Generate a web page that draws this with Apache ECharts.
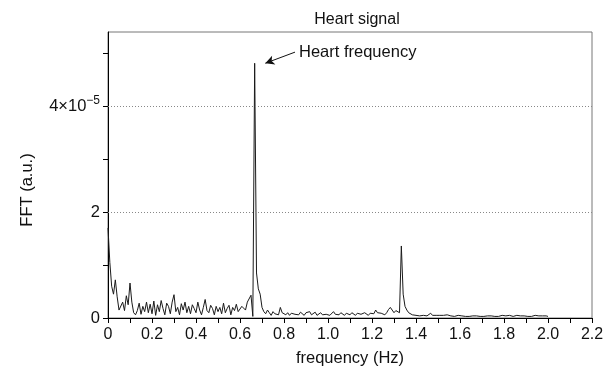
<!DOCTYPE html>
<html>
<head>
<meta charset="utf-8">
<script src="https://cdn.jsdelivr.net/npm/echarts@6/dist/echarts.min.js"></script>
<style>html,body{margin:0;padding:0;background:#fff}#c{width:614px;height:373px}</style>
</head>
<body>
<div id="c"></div>
<script>
// FFT magnitude, in units of 1e-5 (a.u.), sampled every 1/120 Hz from 0 to 2.0 Hz
const freqStep = 1 / 120;
const fftValues = [
  1.70, 1.05, 0.60, 0.45, 0.72, 0.40, 0.15, 0.16, 0.30, 0.14, 0.42, 0.25,
  0.66, 0.30, 0.10, 0.06, 0.14, 0.28, 0.07, 0.22, 0.12, 0.30, 0.10, 0.26,
  0.08, 0.32, 0.05, 0.25, 0.12, 0.33, 0.18, 0.06, 0.28, 0.22, 0.08, 0.30,
  0.44, 0.12, 0.20, 0.06, 0.27, 0.15, 0.30, 0.10, 0.22, 0.08, 0.25, 0.18,
  0.10, 0.30, 0.15, 0.06, 0.20, 0.35, 0.14, 0.10, 0.24, 0.18, 0.06, 0.22,
  0.12, 0.20, 0.08, 0.28, 0.10, 0.18, 0.24, 0.06, 0.20, 0.14, 0.26, 0.12,
  0.10, 0.22, 0.20, 0.15, 0.30, 0.28, 0.43, 0.03, 4.81, 0.85, 0.55, 0.45,
  0.20, 0.12, 0.08, 0.15, 0.10, 0.05, 0.12, 0.08, 0.10, 0.06, 0.20, 0.10,
  0.12, 0.06, 0.10, 0.05, 0.09, 0.12, 0.07, 0.10, 0.06, 0.11, 0.08, 0.05,
  0.10, 0.07, 0.12, 0.06, 0.09, 0.11, 0.05, 0.08, 0.10, 0.06, 0.09, 0.07,
  0.10, 0.05, 0.08, 0.12, 0.07, 0.09, 0.06, 0.10, 0.08, 0.05, 0.09, 0.07,
  0.06, 0.10, 0.08, 0.05, 0.09, 0.12, 0.07, 0.06, 0.10, 0.08, 0.05, 0.09,
  0.12, 0.08, 0.15, 0.10, 0.07, 0.09, 0.12, 0.06, 0.10, 0.16, 0.20, 0.15,
  0.10, 0.14, 0.12, 0.10, 1.36, 0.45, 0.22, 0.15, 0.10, 0.08, 0.06, 0.07,
  0.05, 0.06, 0.04, 0.07, 0.05, 0.06, 0.04, 0.05, 0.09, 0.05, 0.04, 0.05,
  0.04, 0.05, 0.03, 0.05, 0.04, 0.06, 0.03, 0.04, 0.05, 0.03, 0.04, 0.05,
  0.03, 0.04, 0.05, 0.03, 0.04, 0.03, 0.05, 0.04, 0.03, 0.04, 0.05, 0.03,
  0.04, 0.03, 0.05, 0.04, 0.03, 0.04, 0.05, 0.03, 0.04, 0.03, 0.04, 0.05,
  0.03, 0.04, 0.03, 0.05, 0.04, 0.03, 0.04, 0.05, 0.03, 0.04, 0.03, 0.04,
  0.05, 0.03, 0.04, 0.03, 0.04, 0.05, 0.03, 0.04, 0.03, 0.04, 0.03, 0.04,
  0.03
];
const yLabelledTicks = [0, 2, 4];
const yGridLines = [2, 4];
const chartTitle = 'Heart signal';
const xAxisTitle = 'frequency (Hz)';
const yAxisTitle = 'FFT (a.u.)';
const annotationText = 'Heart frequency';
const arrowTail = [0.85, 5.02];
const arrowHead = [0.715, 4.81];

const seriesData = fftValues.map((v, i) => [i * freqStep, v]);
const FONT = 'Liberation Sans, Arial, Helvetica, sans-serif';

const chart = echarts.init(document.getElementById('c'), null, {renderer: 'canvas'});
chart.setOption({
  animation: false,
  backgroundColor: '#fff',
  title: {
    text: chartTitle, left: 352, top: 7, textAlign: 'center',
    textStyle: {fontFamily: FONT, fontSize: 16, fontWeight: 'normal', color: '#111'}
  },
  graphic: [{
    type: 'text', x: 27, y: 190, rotation: Math.PI / 2,
    style: {text: yAxisTitle, fontFamily: FONT, fontSize: 16.5, fill: '#111',
      align: 'center', verticalAlign: 'middle'}
  }],
  grid: {left: 108, right: 22, top: 32, bottom: 55, show: true, borderColor: '#777', borderWidth: 1},
  xAxis: {
    type: 'value', min: 0, max: 2.2, interval: 0.2,
    name: xAxisTitle, nameLocation: 'middle', nameGap: 32,
    nameTextStyle: {fontFamily: FONT, fontSize: 16.5, color: '#111'},
    axisLine: {show: true, lineStyle: {color: '#000', width: 1}},
    axisTick: {show: true, length: 5, lineStyle: {color: '#000'}},
    minorTick: {show: true, splitNumber: 2, length: 5, lineStyle: {color: '#000'}},
    axisLabel: {fontFamily: FONT, fontSize: 16, color: '#111', margin: 9,
      formatter: v => (Math.abs(v) < 1e-9 ? '0' : v.toFixed(1))},
    splitLine: {show: false}
  },
  yAxis: {
    type: 'value', min: 0, max: 5.4, interval: 1,
    axisLine: {show: true, lineStyle: {color: '#000', width: 1}},
    axisTick: {show: true, length: 5, lineStyle: {color: '#000'}},
    axisLabel: {
      fontFamily: FONT, fontSize: 16.5, color: '#111', margin: 8, showMaxLabel: false,
      formatter: v => {
        if (!yLabelledTicks.includes(v)) return '';
        if (v === 4) return '4×10{sup|−5}';
        return String(v);
      },
      rich: {sup: {fontFamily: FONT, fontSize: 12, color: '#111', padding: [0, 0, 11, 0]}}
    },
    splitLine: {show: false}
  },
  series: [{
    type: 'line', data: seriesData, showSymbol: false, symbol: 'none',
    lineStyle: {color: '#1a1a1a', width: 1}, z: 3,
    markLine: {
      silent: true, symbol: ['none', 'arrow'], symbolSize: [7, 9],
      lineStyle: {color: '#111', width: 1, type: 'solid'},
      label: {show: false},
      data: [[{coord: arrowTail}, {coord: arrowHead}]]
    },
    markPoint: {
      silent: true, symbol: 'circle', symbolSize: 0,
      label: {show: true, position: 'right', distance: 4, formatter: annotationText,
        fontFamily: FONT, fontSize: 16.5, color: '#111'},
      data: [{coord: arrowTail}]
    }
  }, {
    type: 'line', data: [], z: 1,
    markLine: {
      silent: true, symbol: ['none', 'none'],
      lineStyle: {color: '#888', type: [1, 2], width: 1},
      label: {show: false},
      data: yGridLines.map(v => ({yAxis: v}))
    }
  }]
});
</script>
</body>
</html>
